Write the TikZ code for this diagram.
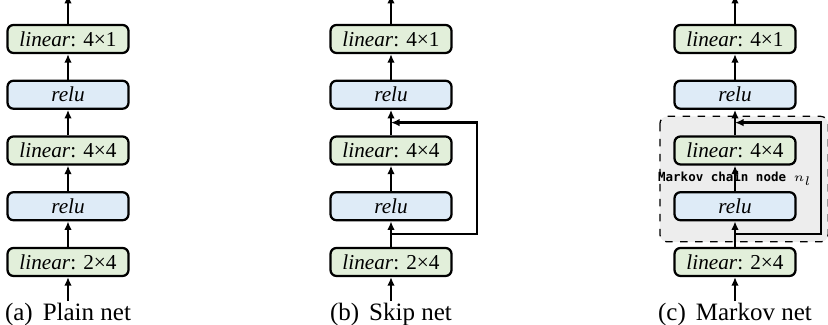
\documentclass[tikz,border=0pt]{standalone}
\usepackage{fontspec}
\setmainfont{Liberation Serif}
\newfontfamily\codefont{DejaVu Sans Mono}
\usetikzlibrary{positioning,arrows.meta,backgrounds}

\definecolor{lingreen}{HTML}{E2EFDA}
\definecolor{relublue}{HTML}{DEEBF7}
\definecolor{chaingray}{HTML}{EDEDED}

\tikzset{
	layer/.style={draw, line width=0.9pt, rounded corners=2.4pt, minimum width=48.4pt, minimum height=11.2pt, inner sep=0pt, font=\fontsize{8.5}{10}\selectfont},
	linbox/.style={layer, fill=lingreen},
	relubox/.style={layer, fill=relublue},
	flow/.style={line width=0.9pt, -{Latex[length=3.4pt,width=3pt]}},
	caption/.style={inner sep=0pt, font=\fontsize{10}{12}\selectfont},
	chainbox/.style={draw, dashed, line width=0.5pt, rounded corners=3pt, fill=chaingray},
	chainlabel/.style={inner sep=0pt, font=\codefont\bfseries\fontsize{5}{6}\selectfont}
}

\begin{document}
\begin{tikzpicture}[node distance=10.2pt]
	\useasboundingbox (0,0) rectangle (331.2pt,130pt);
	\foreach \p/\x/\cap in {a/27.2/Plain net, b/156.4/Skip net, c/294/Markov net}{
		\node[linbox] (\p24) at (\x pt,25.2pt) {\textit{linear}: 2×4};
		\node[relubox, above=of \p24] (\p-r1) {\textit{relu}};
		\node[linbox, above=of \p-r1] (\p44) {\textit{linear}: 4×4};
		\node[relubox, above=of \p44] (\p-r2) {\textit{relu}};
		\node[linbox, above=of \p-r2] (\p41) {\textit{linear}: 4×1};
		\coordinate[below=9.6pt of \p24] (\p-in);
		\coordinate[above=11.6pt of \p41] (\p-out);
		\node[caption, below=0.8pt of \p-in] (\p-cap) {(\p)\hspace{0.4em}\cap};
	}
	% Markov chain node (background)
	\begin{scope}[on background layer]
		\draw[chainbox] ([xshift=-5.4pt,yshift=7.6pt]c44.north west) rectangle ([xshift=12.6pt,yshift=-8.2pt]c-r1.south east);
		\path (c-r1) -- (c44) node[midway, chainlabel] (c-label) {Markov chain node $n_l$};
	\end{scope}
	\foreach \p in {a,b,c}{
		\draw[flow] (\p-in) -- (\p24);
		\draw[flow] (\p24) -- (\p-r1);
		\draw[flow] (\p-r1) -- (\p44);
		\draw[flow] (\p44) -- (\p-r2);
		\draw[flow] (\p-r2) -- (\p41);
		\draw[flow] (\p41) -- (\p-out);
	}
	% skip connections
	\foreach \p in {b,c}{
		\coordinate[above=5.1pt of \p24] (\p-split);
		\coordinate[above=5.1pt of \p44] (\p-merge);
		\draw[flow] (\p-split) -- ++(34.4pt,0) |- (\p-merge);
	}
\end{tikzpicture}
\end{document}
